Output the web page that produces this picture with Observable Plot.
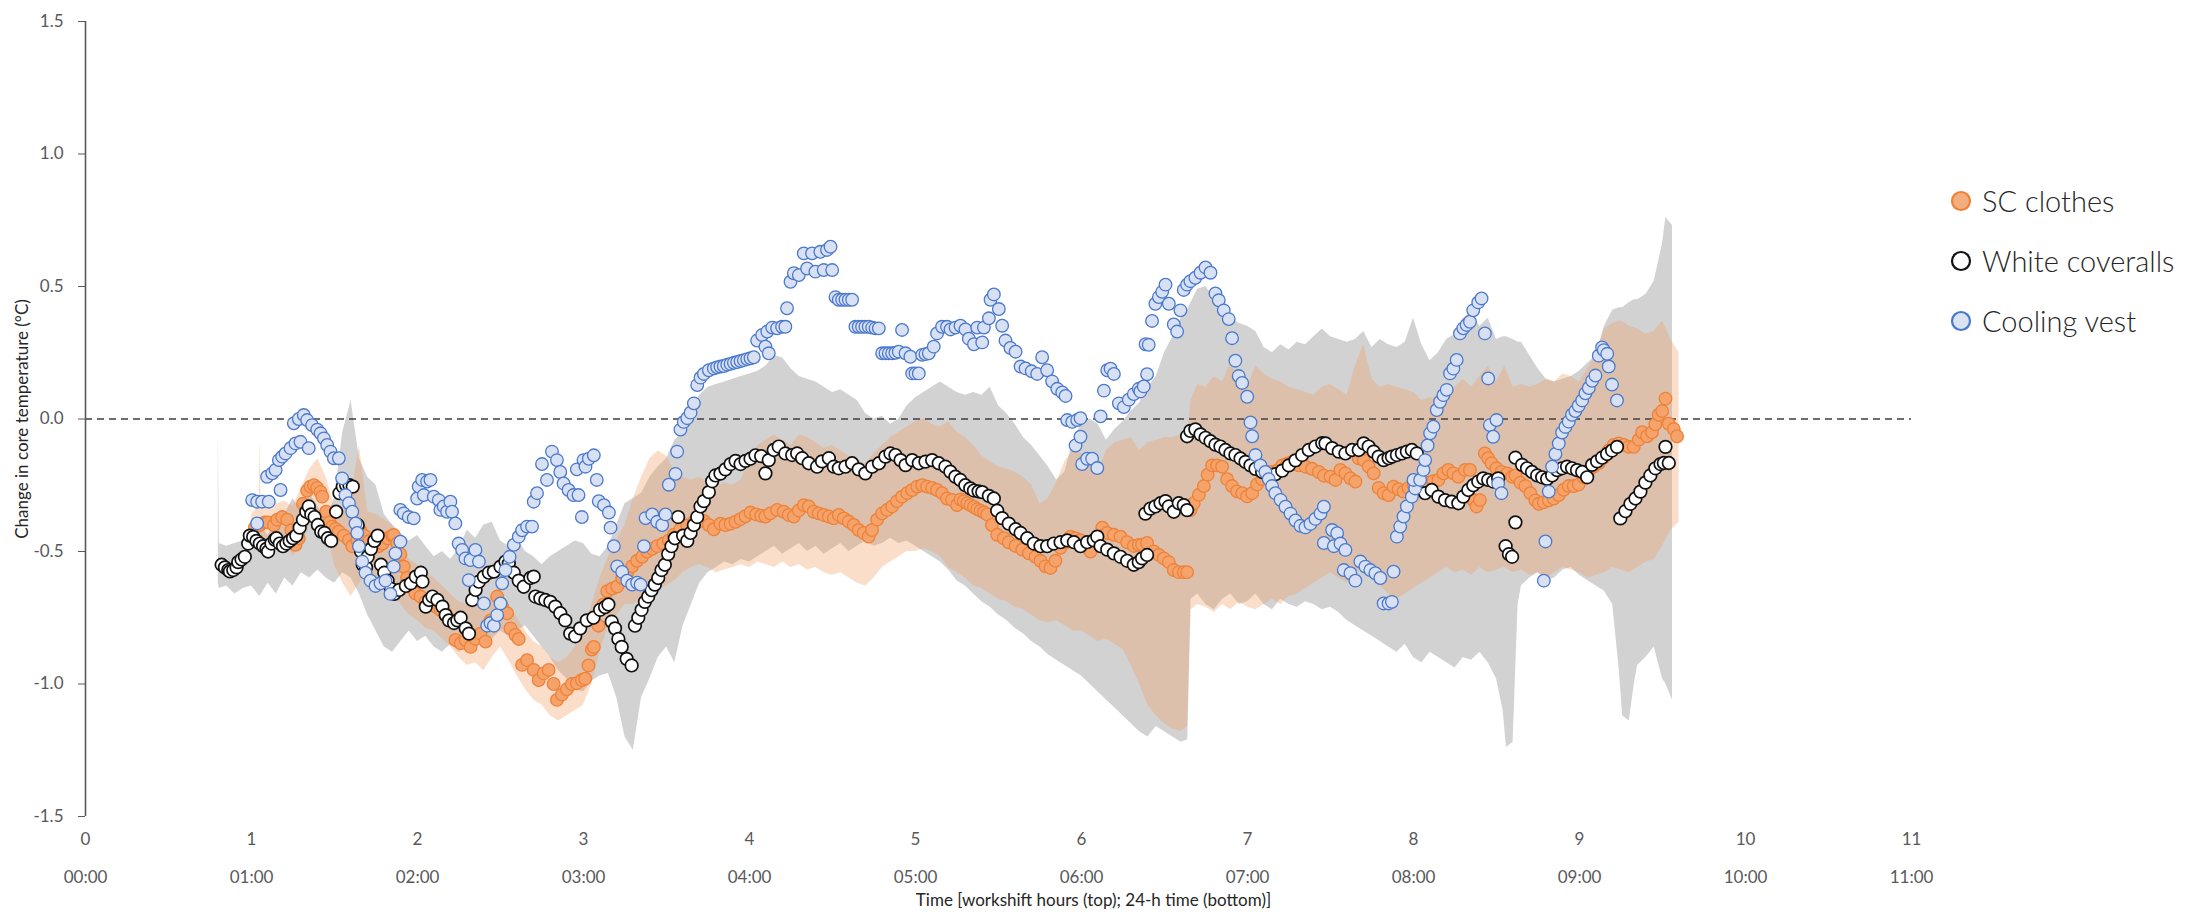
<!DOCTYPE html>
<html>
<head>
<meta charset="utf-8">
<script src="https://cdn.jsdelivr.net/npm/d3@7"></script>
<script src="https://cdn.jsdelivr.net/npm/@observablehq/plot@0.6"></script>
<style>
  html, body { margin: 0; padding: 0; background: #ffffff; }
  #wrap { position: relative; width: 2187px; height: 914px; overflow: hidden; }
  #legend { position: absolute; left: 0; top: 0; pointer-events: none; }
</style>
</head>
<body>
<div id="wrap"><div id="chart"></div><svg id="legend" width="2187" height="914"></svg></div>
<script>
// ---------- axis ticks ----------
const hourTicks = [0, 1, 2, 3, 4, 5, 6, 7, 8, 9, 10, 11];
const clockLabels = ["00:00", "01:00", "02:00", "03:00", "04:00", "05:00", "06:00", "07:00", "08:00", "09:00", "10:00", "11:00"];
const yTicks = [-1.5, -1.0, -0.5, 0.0, 0.5, 1.0, 1.5];
const xTitle = "Time [workshift hours (top); 24-h time (bottom)]";
const yTitle = "Change in core temperature (°C)";
const seriesNames = ["SC clothes", "White coveralls", "Cooling vest"];

// ---------- series: [hour, change °C] ----------
const scClothes = [
[1.02,-0.41],[1.05,-0.40],[1.08,-0.39],[1.10,-0.39],[1.135,-0.40],[1.155,-0.38],[1.185,-0.37],[1.215,-0.38],[1.24,-0.42],[1.265,-0.475],[1.285,-0.45],[1.31,-0.32],[1.335,-0.27],[1.355,-0.255],[1.376,-0.25],[1.396,-0.26],[1.416,-0.275],[1.426,-0.293],[1.45,-0.35],[1.47,-0.39],[1.486,-0.406],[1.506,-0.415],[1.526,-0.425],[1.556,-0.44],[1.587,-0.457],[1.607,-0.48],[1.637,-0.457],[1.655,-0.42],[1.68,-0.44],[1.71,-0.46],[1.74,-0.47],[1.767,-0.48],[1.79,-0.47],[1.82,-0.45],[1.847,-0.44],
[1.857,-0.438],[1.877,-0.47],[1.897,-0.51],[1.917,-0.557],[1.937,-0.60],[1.957,-0.633],[1.987,-0.658],[2.018,-0.67],[2.048,-0.69],[2.078,-0.696],[2.108,-0.708],[2.138,-0.72],[2.168,-0.733],[2.198,-0.758],[2.229,-0.834],[2.26,-0.846],[2.29,-0.834],[2.32,-0.86],[2.35,-0.83],[2.379,-0.81],[2.41,-0.84],[2.44,-0.76],[2.48,-0.67],[2.51,-0.708],[2.54,-0.733],[2.56,-0.79],[2.59,-0.815],[2.61,-0.83],[2.63,-0.928],[2.66,-0.91],[2.70,-0.947],[2.73,-0.985],[2.76,-0.96],[2.79,-0.947],[2.82,-1.0],[2.84,-1.06],[2.87,-1.04],[2.90,-1.02],[2.93,-1.0],[2.96,-0.997],[2.99,-0.985],
[3.01,-0.98],[3.03,-0.93],[3.05,-0.87],[3.062,-0.86],[3.09,-0.78],[3.12,-0.70],[3.143,-0.65],[3.173,-0.64],[3.203,-0.632],[3.233,-0.60],[3.263,-0.58],[3.293,-0.556],[3.323,-0.535],[3.353,-0.52],[3.384,-0.50],[3.414,-0.49],[3.444,-0.48],[3.48,-0.47],[3.514,-0.458],[3.544,-0.437],[3.584,-0.416],[3.625,-0.402],[3.665,-0.388],[3.695,-0.374],[3.725,-0.385],[3.755,-0.40],[3.785,-0.416],[3.825,-0.395],[3.855,-0.40],[3.886,-0.395],[3.916,-0.388],[3.946,-0.378],[3.976,-0.367],[4.006,-0.353],[4.04,-0.36],[4.07,-0.365],
[4.096,-0.368],[4.126,-0.356],[4.166,-0.343],[4.206,-0.35],[4.236,-0.362],[4.267,-0.368],[4.297,-0.345],[4.327,-0.325],[4.357,-0.33],[4.387,-0.35],[4.417,-0.356],[4.447,-0.362],[4.478,-0.368],[4.508,-0.375],[4.538,-0.362],[4.568,-0.375],[4.598,-0.387],[4.628,-0.40],[4.658,-0.419],[4.688,-0.43],[4.718,-0.444],[4.738,-0.419],[4.769,-0.38],[4.799,-0.356],[4.829,-0.343],[4.859,-0.33],[4.889,-0.31],[4.919,-0.293],[4.95,-0.28],[4.98,-0.268],[5.01,-0.255],[5.04,-0.25],[5.07,-0.255],[5.10,-0.26],[5.13,-0.268],[5.16,-0.28],[5.19,-0.30],[5.22,-0.305],[5.25,-0.325],
[5.271,-0.304],[5.291,-0.31],[5.311,-0.318],[5.331,-0.325],[5.352,-0.332],[5.372,-0.34],[5.392,-0.346],[5.412,-0.352],[5.432,-0.36],[5.46,-0.40],[5.492,-0.437],[5.532,-0.45],[5.562,-0.465],[5.603,-0.479],[5.643,-0.493],[5.683,-0.507],[5.723,-0.52],[5.753,-0.535],[5.783,-0.556],[5.813,-0.562],[5.843,-0.535],[5.874,-0.486],[5.904,-0.465],[5.934,-0.444],[5.964,-0.45],[5.994,-0.458],[6.024,-0.48],[6.054,-0.50],[6.09,-0.46],[6.125,-0.41],[6.155,-0.43],[6.195,-0.437],[6.235,-0.444],[6.275,-0.465],[6.315,-0.479],[6.345,-0.475],
[6.365,-0.474],[6.395,-0.468],[6.435,-0.50],[6.466,-0.513],[6.496,-0.526],[6.526,-0.54],[6.556,-0.57],[6.586,-0.578],[6.616,-0.578],[6.636,-0.578],
[6.656,-0.344],[6.676,-0.318],[6.707,-0.286],[6.737,-0.253],[6.76,-0.21],[6.787,-0.175],[6.817,-0.175],[6.847,-0.18],[6.877,-0.227],[6.907,-0.253],[6.937,-0.273],[6.968,-0.28],[6.998,-0.292],[7.028,-0.28],[7.058,-0.247],[7.088,-0.227],[7.118,-0.20],[7.148,-0.20],[7.178,-0.195],[7.209,-0.175],[7.239,-0.169],[7.269,-0.162],[7.309,-0.175],[7.349,-0.18],[7.389,-0.188],[7.43,-0.20],[7.46,-0.214],
[7.50,-0.218],[7.53,-0.23],[7.56,-0.192],[7.59,-0.205],[7.62,-0.224],[7.65,-0.236],[7.67,-0.148],[7.70,-0.155],[7.73,-0.18],[7.76,-0.205],[7.79,-0.26],[7.82,-0.28],[7.85,-0.287],[7.88,-0.255],[7.91,-0.265],[7.94,-0.274],[7.97,-0.26],[8.00,-0.25],[8.03,-0.245],[8.06,-0.25],[8.09,-0.24],[8.12,-0.235],[8.15,-0.23],[8.18,-0.205],[8.21,-0.192],[8.24,-0.205],[8.27,-0.218],[8.31,-0.192],[8.34,-0.192],[8.36,-0.306],[8.38,-0.33],[8.40,-0.306],[8.43,-0.13],[8.45,-0.148],[8.47,-0.167],[8.50,-0.186],[8.53,-0.20],[8.565,-0.205],[8.595,-0.218],
[8.614,-0.213],[8.644,-0.24],[8.674,-0.253],[8.704,-0.28],[8.734,-0.307],[8.755,-0.32],[8.785,-0.314],[8.815,-0.307],[8.845,-0.30],[8.875,-0.287],[8.905,-0.267],[8.935,-0.253],[8.965,-0.253],[8.995,-0.247],[9.025,-0.22],[9.056,-0.193],[9.086,-0.18],[9.116,-0.166],[9.146,-0.146],[9.176,-0.119],[9.206,-0.098],[9.236,-0.092],[9.267,-0.098],[9.297,-0.105],[9.327,-0.105],[9.357,-0.078],[9.377,-0.05],[9.407,-0.065],[9.437,-0.05],[9.457,-0.02],[9.477,0.016],[9.498,0.03],[9.518,0.077],[9.538,-0.018],[9.568,-0.038],[9.588,-0.065]
];

const whiteCoveralls = [
[0.82,-0.55],[0.84,-0.56],[0.86,-0.57],[0.87,-0.575],[0.89,-0.57],[0.91,-0.56],[0.92,-0.54],[0.94,-0.53],[0.96,-0.52],[0.98,-0.47],[0.99,-0.44],[1.01,-0.445],[1.03,-0.46],[1.05,-0.47],[1.07,-0.48],[1.09,-0.49],[1.10,-0.50],[1.12,-0.47],[1.14,-0.455],[1.15,-0.45],[1.17,-0.47],[1.19,-0.48],[1.21,-0.47],[1.23,-0.46],[1.25,-0.45],[1.27,-0.44],[1.29,-0.41],[1.31,-0.38],[1.33,-0.35],[1.345,-0.33],[1.36,-0.36],[1.38,-0.37],[1.40,-0.40],[1.42,-0.425],[1.44,-0.43],[1.46,-0.45],[1.48,-0.46],[1.51,-0.35],[1.53,-0.28],[1.55,-0.255],[1.57,-0.25],[1.59,-0.25],[1.61,-0.255],[1.64,-0.40],[1.66,-0.50],[1.67,-0.55],[1.69,-0.56],[1.70,-0.52],[1.72,-0.49],[1.74,-0.46],[1.76,-0.44],[1.78,-0.55],[1.80,-0.58],[1.82,-0.61],[1.84,-0.64],
[1.86,-0.66],[1.89,-0.645],[1.93,-0.63],[1.96,-0.62],[1.99,-0.595],[2.02,-0.58],[2.03,-0.614],[2.05,-0.708],[2.07,-0.683],[2.09,-0.67],[2.12,-0.683],[2.15,-0.708],[2.17,-0.74],[2.19,-0.76],[2.22,-0.77],[2.24,-0.76],[2.26,-0.75],[2.29,-0.79],[2.31,-0.81],[2.33,-0.683],[2.35,-0.645],[2.37,-0.614],[2.40,-0.595],[2.43,-0.58],[2.46,-0.576],[2.50,-0.557],[2.53,-0.538],[2.55,-0.545],[2.58,-0.58],[2.61,-0.61],[2.64,-0.633],[2.68,-0.60],[2.70,-0.595],[2.71,-0.67],[2.74,-0.677],[2.77,-0.683],[2.80,-0.69],[2.83,-0.708],[2.86,-0.733],[2.89,-0.76],[2.92,-0.81],[2.95,-0.82],[2.98,-0.79],
[3.02,-0.76],[3.06,-0.75],[3.10,-0.72],[3.13,-0.71],[3.15,-0.70],[3.17,-0.765],[3.19,-0.79],[3.21,-0.83],[3.23,-0.86],[3.26,-0.905],[3.29,-0.93],[3.31,-0.78],[3.33,-0.75],[3.35,-0.72],[3.37,-0.69],[3.39,-0.67],[3.41,-0.646],[3.43,-0.625],[3.45,-0.60],[3.47,-0.57],[3.49,-0.55],[3.51,-0.51],[3.53,-0.48],[3.55,-0.45],[3.57,-0.37],[3.60,-0.44],[3.625,-0.46],[3.645,-0.43],[3.665,-0.40],[3.685,-0.37],[3.705,-0.33],[3.725,-0.31],[3.755,-0.276],[3.775,-0.235],[3.795,-0.213],[3.825,-0.206],[3.855,-0.19],[3.886,-0.17],[3.916,-0.158],[3.946,-0.17],[3.976,-0.158],[4.006,-0.15],[4.036,-0.137],[4.07,-0.14],
[4.096,-0.205],[4.116,-0.155],[4.146,-0.117],[4.176,-0.104],[4.216,-0.13],[4.257,-0.136],[4.287,-0.13],[4.317,-0.148],[4.357,-0.167],[4.407,-0.18],[4.437,-0.16],[4.478,-0.148],[4.508,-0.18],[4.538,-0.186],[4.578,-0.18],[4.618,-0.167],[4.658,-0.19],[4.698,-0.205],[4.739,-0.18],[4.78,-0.167],[4.819,-0.142],[4.849,-0.13],[4.879,-0.136],[4.91,-0.155],[4.94,-0.174],[4.98,-0.155],[5.02,-0.167],[5.06,-0.161],[5.10,-0.155],[5.14,-0.167],[5.18,-0.18],[5.21,-0.199],[5.24,-0.218],
[5.27,-0.23],[5.30,-0.25],[5.33,-0.262],[5.352,-0.27],[5.38,-0.273],[5.402,-0.276],[5.442,-0.29],[5.472,-0.30],[5.492,-0.346],[5.522,-0.374],[5.562,-0.395],[5.603,-0.416],[5.633,-0.43],[5.673,-0.45],[5.713,-0.47],[5.753,-0.48],[5.793,-0.48],[5.833,-0.47],[5.874,-0.465],[5.914,-0.458],[5.954,-0.465],[5.994,-0.48],[6.034,-0.465],[6.074,-0.458],[6.095,-0.444],[6.115,-0.48],[6.155,-0.493],[6.195,-0.507],[6.235,-0.52],[6.275,-0.535],[6.315,-0.55],[6.345,-0.54],[6.365,-0.526],[6.395,-0.513],
[6.385,-0.357],[6.415,-0.338],[6.445,-0.33],[6.476,-0.318],[6.506,-0.31],[6.526,-0.33],[6.556,-0.35],[6.586,-0.318],[6.616,-0.325],[6.636,-0.344],
[6.636,-0.065],[6.656,-0.045],[6.686,-0.039],[6.717,-0.058],[6.747,-0.071],[6.777,-0.084],[6.807,-0.097],[6.837,-0.104],[6.867,-0.117],[6.897,-0.13],[6.927,-0.136],[6.958,-0.149],[6.988,-0.162],[7.018,-0.175],[7.048,-0.188],[7.088,-0.20],[7.128,-0.214],[7.168,-0.208],[7.209,-0.195],[7.249,-0.175],[7.289,-0.156],[7.329,-0.136],[7.369,-0.117],[7.409,-0.104],[7.45,-0.091],
[7.47,-0.092],[7.51,-0.11],[7.55,-0.123],[7.59,-0.13],[7.63,-0.117],[7.67,-0.117],[7.70,-0.092],[7.73,-0.104],[7.76,-0.123],[7.79,-0.142],[7.82,-0.155],[7.85,-0.148],[7.87,-0.142],[7.90,-0.136],[7.93,-0.13],[7.96,-0.123],[7.99,-0.117],[8.02,-0.13],
[8.07,-0.28],[8.11,-0.268],[8.15,-0.293],[8.19,-0.306],[8.23,-0.312],[8.27,-0.318],[8.30,-0.293],[8.33,-0.268],[8.36,-0.25],[8.39,-0.236],[8.42,-0.224],[8.45,-0.23],[8.48,-0.236],[8.51,-0.224],
[8.555,-0.48],[8.575,-0.51],[8.594,-0.52],[8.614,-0.39],
[8.614,-0.146],[8.654,-0.173],[8.684,-0.186],[8.714,-0.20],[8.745,-0.213],[8.775,-0.22],[8.805,-0.226],[8.835,-0.213],[8.865,-0.193],[8.895,-0.186],[8.925,-0.18],[8.955,-0.186],[8.985,-0.193],[9.016,-0.20],[9.046,-0.22],[9.076,-0.173],[9.106,-0.16],[9.136,-0.146],[9.166,-0.132],[9.196,-0.119],[9.226,-0.105],
[9.246,-0.375],[9.277,-0.348],[9.307,-0.32],[9.337,-0.30],[9.367,-0.274],[9.397,-0.24],[9.427,-0.213],[9.457,-0.186],[9.488,-0.17],[9.508,-0.166],[9.518,-0.105],[9.538,-0.166]
];

const coolingVest = [
[1.004,-0.306],[1.034,-0.312],[1.034,-0.394],[1.064,-0.312],[1.104,-0.312],[1.094,-0.218],[1.125,-0.205],[1.145,-0.192],[1.165,-0.155],[1.175,-0.268],[1.185,-0.142],[1.205,-0.13],[1.235,-0.11],[1.265,-0.092],[1.295,-0.086],[1.345,-0.11],[1.255,-0.016],[1.285,0.0],[1.315,0.015],[1.335,-0.004],[1.365,-0.023],[1.396,-0.04],[1.416,-0.054],[1.436,-0.073],[1.456,-0.098],[1.476,-0.123],[1.496,-0.148],[1.526,-0.148],[1.546,-0.224],[1.566,-0.287],[1.587,-0.318],[1.607,-0.35],[1.627,-0.394],[1.637,-0.43],[1.647,-0.48],[1.667,-0.538],[1.687,-0.58],[1.717,-0.61],[1.747,-0.63],[1.777,-0.62],[1.807,-0.61],[1.837,-0.66],[1.857,-0.557],[1.867,-0.507],[1.897,-0.463],
[1.897,-0.343],[1.917,-0.356],[1.947,-0.37],[1.977,-0.375],[1.998,-0.30],[2.007,-0.255],[2.028,-0.23],[2.058,-0.236],[2.078,-0.23],[2.038,-0.287],[2.098,-0.293],[2.128,-0.306],[2.138,-0.343],[2.158,-0.33],[2.178,-0.35],[2.198,-0.312],[2.208,-0.35],[2.228,-0.394],[2.248,-0.47],[2.269,-0.494],[2.289,-0.526],[2.309,-0.608],[2.319,-0.532],[2.349,-0.494],[2.37,-0.538],[2.40,-0.696],[2.42,-0.78],[2.44,-0.77],[2.46,-0.78],[2.48,-0.74],[2.50,-0.696],[2.51,-0.62],[2.53,-0.57],[2.555,-0.52],[2.58,-0.475],[2.61,-0.444],[2.63,-0.42],[2.66,-0.406],[2.69,-0.406],[2.70,-0.312],[2.72,-0.28],[2.75,-0.17],[2.78,-0.23],[2.81,-0.123],[2.84,-0.155],[2.86,-0.20],[2.88,-0.243],[2.91,-0.268],[2.94,-0.287],[2.97,-0.287],[2.96,-0.19],[2.99,-0.37],
[3.0,-0.155],[3.012,-0.18],[3.032,-0.15],[3.062,-0.137],[3.08,-0.23],[3.092,-0.31],[3.123,-0.325],[3.153,-0.353],[3.163,-0.41],[3.183,-0.48],[3.203,-0.556],[3.233,-0.577],[3.263,-0.61],[3.293,-0.625],[3.323,-0.618],[3.344,-0.625],[3.364,-0.48],[3.374,-0.374],[3.414,-0.36],[3.444,-0.388],[3.474,-0.40],[3.494,-0.36],[3.514,-0.248],[3.554,-0.207],[3.564,-0.123],[3.584,-0.04],[3.604,-0.011],[3.625,0.003],[3.645,0.024],[3.665,0.059],[3.685,0.128],[3.705,0.156],[3.725,0.17],[3.755,0.184],[3.785,0.191],[3.805,0.195],[3.825,0.198],[3.845,0.2],[3.866,0.205],[3.886,0.208],[3.906,0.212],[3.926,0.215],[3.946,0.219],[3.966,0.222],[3.986,0.226],[4.006,0.229],[4.026,0.233],[4.046,0.296],[4.076,0.317],
[4.096,0.273],[4.107,0.33],[4.116,0.248],[4.137,0.345],[4.166,0.342],[4.196,0.348],[4.216,0.348],[4.226,0.418],[4.247,0.518],[4.267,0.55],[4.297,0.543],[4.327,0.625],[4.347,0.568],[4.377,0.625],[4.397,0.556],[4.427,0.631],[4.447,0.562],[4.467,0.638],[4.488,0.65],[4.498,0.562],[4.518,0.46],[4.538,0.45],[4.558,0.45],[4.578,0.45],[4.598,0.45],[4.618,0.45],[4.638,0.348],[4.658,0.348],[4.678,0.348],[4.698,0.348],[4.718,0.348],[4.739,0.345],[4.759,0.342],[4.779,0.342],[4.799,0.248],[4.819,0.248],[4.839,0.248],[4.859,0.248],[4.879,0.25],[4.899,0.254],[4.919,0.336],[4.94,0.248],[4.969,0.235],[4.98,0.172],[5.0,0.172],[5.02,0.172],[5.04,0.242],[5.06,0.245],[5.08,0.248],[5.11,0.273],[5.13,0.323],[5.16,0.348],[5.19,0.348],
[5.211,0.338],[5.241,0.345],[5.271,0.352],[5.301,0.338],[5.321,0.303],[5.352,0.282],[5.372,0.345],[5.402,0.289],[5.412,0.345],[5.442,0.38],[5.452,0.45],[5.472,0.47],[5.502,0.415],[5.522,0.352],[5.542,0.296],[5.572,0.268],[5.603,0.254],[5.633,0.198],[5.663,0.191],[5.70,0.18],[5.733,0.17],[5.763,0.233],[5.793,0.184],[5.823,0.142],[5.854,0.114],[5.884,0.10],[5.904,0.087],[5.914,-0.004],[5.944,-0.011],[5.974,-0.004],[5.994,0.003],[5.964,-0.10],[5.994,-0.067],[6.004,-0.17],[6.034,-0.15],[6.064,-0.15],[6.095,-0.185],[6.115,0.01],[6.135,0.107],[6.155,0.184],[6.175,0.19],[6.195,0.17],[6.225,0.059],[6.255,0.045],[6.285,0.073],[6.315,0.094],[6.345,0.114],
[6.355,0.104],[6.375,0.123],[6.386,0.282],[6.395,0.169],[6.405,0.28],[6.425,0.37],[6.445,0.435],[6.466,0.46],[6.486,0.48],[6.506,0.507],[6.526,0.435],[6.556,0.357],[6.576,0.33],[6.596,0.41],[6.616,0.487],[6.636,0.507],[6.656,0.52],[6.686,0.533],[6.717,0.552],[6.747,0.572],[6.777,0.552],[6.807,0.474],[6.827,0.448],[6.857,0.41],[6.887,0.377],[6.907,0.305],[6.927,0.22],[6.947,0.162],[6.968,0.136],[6.998,0.084],[7.018,-0.013],[7.028,-0.065],[7.048,-0.136],[7.078,-0.175],[7.108,-0.20],[7.128,-0.227],[7.148,-0.253],[7.168,-0.28],[7.199,-0.305],[7.229,-0.331],[7.259,-0.357],[7.289,-0.383],[7.319,-0.403],[7.349,-0.409],[7.379,-0.396],[7.409,-0.377],[7.44,-0.357],[7.46,-0.331],[7.46,-0.468],
[7.51,-0.419],[7.52,-0.48],[7.54,-0.431],[7.56,-0.47],[7.58,-0.57],[7.59,-0.494],[7.62,-0.582],[7.65,-0.61],[7.68,-0.538],[7.71,-0.557],[7.74,-0.57],[7.77,-0.582],[7.80,-0.60],[7.82,-0.696],[7.85,-0.696],[7.87,-0.69],[7.88,-0.576],[7.90,-0.444],[7.92,-0.406],[7.94,-0.368],[7.96,-0.33],[7.99,-0.293],[8.01,-0.262],[8.0,-0.23],[8.04,-0.23],[8.06,-0.192],[8.07,-0.155],[8.085,-0.10],[8.10,-0.054],[8.12,-0.029],[8.14,0.034],[8.16,0.065],[8.18,0.09],[8.20,0.11],[8.22,0.172],[8.24,0.19],[8.26,0.223],[8.28,0.323],[8.30,0.342],[8.32,0.355],[8.34,0.367],[8.36,0.41],[8.39,0.44],[8.41,0.455],[8.43,0.323],[8.45,0.153],[8.46,-0.023],[8.48,-0.067],[8.50,-0.004],[8.51,-0.243],[8.53,-0.28],
[8.785,-0.61],[8.795,-0.462],[8.815,-0.274],[8.835,-0.18],[8.855,-0.132],[8.875,-0.092],[8.895,-0.051],[8.915,-0.03],[8.935,-0.01],[8.955,0.016],[8.975,0.03],[8.995,0.05],[9.016,0.07],[9.036,0.097],[9.056,0.117],[9.076,0.144],[9.096,0.164],[9.116,0.239],[9.136,0.27],[9.146,0.26],[9.167,0.246],[9.176,0.198],[9.196,0.13],[9.226,0.07]
];

// ---------- shaded spread: [hour, lower, upper] ----------
const whiteBand = [
[0.800,-0.62,-0.03],[0.806,-0.64,-0.47],[0.85,-0.63,-0.48],[0.90,-0.66,-0.47],[0.95,-0.64,-0.46],[1.00,-0.63,-0.42],[1.05,-0.67,-0.40],[1.10,-0.62,-0.44],[1.15,-0.66,-0.38],[1.20,-0.60,-0.36],[1.25,-0.63,-0.30],[1.30,-0.58,-0.35],[1.35,-0.60,-0.28],[1.40,-0.57,-0.33],[1.45,-0.60,-0.38],[1.50,-0.62,-0.30],[1.55,-0.58,-0.05],[1.60,-0.60,0.07],[1.65,-0.66,-0.15],[1.70,-0.74,-0.22],[1.75,-0.80,-0.25],[1.80,-0.86,-0.36],[1.85,-0.88,-0.40],[1.90,-0.84,-0.43],[1.95,-0.80,-0.46],[2.00,-0.84,-0.44],[2.05,-0.82,-0.48],[2.10,-0.86,-0.52],[2.15,-0.88,-0.50],[2.20,-0.85,-0.53],[2.25,-0.88,-0.49],[2.30,-0.86,-0.42],[2.35,-0.84,-0.45],[2.40,-0.86,-0.40],[2.45,-0.83,-0.39],[2.50,-0.80,-0.46],[2.55,-0.82,-0.48],[2.60,-0.80,-0.45],[2.65,-0.78,-0.50],[2.70,-0.82,-0.52],[2.75,-0.86,-0.55],[2.80,-0.90,-0.52],[2.85,-0.95,-0.50],[2.90,-0.98,-0.48],[2.95,-1.02,-0.46],
[3.00,-1.03,-0.47],[3.05,-0.99,-0.51],[3.10,-0.97,-0.52],[3.15,-0.96,-0.48],[3.20,-1.05,-0.40],[3.25,-1.20,-0.32],[3.30,-1.25,-0.30],[3.35,-1.05,-0.28],[3.40,-0.98,-0.22],[3.45,-0.90,-0.18],[3.50,-0.86,-0.15],[3.55,-0.92,-0.08],[3.60,-0.78,-0.05],[3.65,-0.70,0.03],[3.70,-0.62,0.09],[3.75,-0.58,0.12],[3.80,-0.56,0.13],[3.85,-0.54,0.14],[3.90,-0.55,0.15],[3.95,-0.53,0.16],[4.00,-0.54,0.17],[4.05,-0.52,0.18],[4.10,-0.50,0.20],[4.15,-0.48,0.24],[4.20,-0.51,0.23],[4.25,-0.49,0.19],[4.30,-0.47,0.16],[4.35,-0.50,0.15],[4.40,-0.48,0.14],[4.45,-0.51,0.12],[4.50,-0.49,0.10],[4.55,-0.47,0.11],[4.60,-0.50,0.09],[4.65,-0.48,0.07],[4.70,-0.46,0.02],[4.75,-0.48,0.00],[4.80,-0.47,0.01],[4.85,-0.45,-0.02],[4.90,-0.47,0.00],[4.95,-0.46,0.05],
[5.00,-0.48,0.08],[5.05,-0.50,0.10],[5.10,-0.52,0.12],[5.15,-0.54,0.14],[5.20,-0.57,0.12],[5.25,-0.61,0.10],[5.30,-0.63,0.09],[5.35,-0.66,0.10],[5.40,-0.69,0.09],[5.45,-0.71,0.12],[5.50,-0.74,0.05],[5.55,-0.76,0.02],[5.60,-0.79,-0.02],[5.65,-0.81,-0.07],[5.70,-0.84,-0.10],[5.75,-0.86,-0.14],[5.80,-0.89,-0.18],[5.85,-0.91,-0.23],[5.90,-0.93,-0.20],[5.95,-0.95,-0.08],[6.00,-0.97,-0.02],[6.05,-1.00,0.00],[6.10,-1.03,-0.02],[6.15,-1.06,-0.08],[6.20,-1.09,-0.04],[6.25,-1.12,-0.01],[6.30,-1.15,0.03],[6.35,-1.18,0.06],[6.40,-1.20,0.12],[6.45,-1.16,0.16],[6.50,-1.18,0.25],[6.55,-1.20,0.31],[6.60,-1.22,0.38],[6.64,-1.21,0.41],[6.66,-0.68,0.44],[6.70,-0.66,0.49],[6.75,-0.70,0.50],[6.80,-0.72,0.45],[6.85,-0.68,0.41],[6.90,-0.66,0.38],[6.95,-0.70,0.36],
[7.00,-0.69,0.35],[7.05,-0.66,0.33],[7.10,-0.70,0.27],[7.15,-0.72,0.25],[7.20,-0.68,0.28],[7.25,-0.70,0.26],[7.30,-0.71,0.29],[7.35,-0.69,0.28],[7.40,-0.70,0.31],[7.45,-0.72,0.34],[7.50,-0.71,0.31],[7.55,-0.73,0.30],[7.60,-0.76,0.29],[7.65,-0.78,0.30],[7.70,-0.80,0.33],[7.75,-0.82,0.27],[7.80,-0.84,0.30],[7.85,-0.86,0.28],[7.90,-0.88,0.27],[7.95,-0.85,0.29],[8.00,-0.90,0.38],[8.05,-0.92,0.28],[8.10,-0.88,0.22],[8.15,-0.90,0.25],[8.20,-0.92,0.30],[8.25,-0.94,0.32],[8.30,-0.90,0.38],[8.35,-0.91,0.40],[8.40,-0.88,0.35],[8.45,-0.92,0.38],[8.50,-0.98,0.30],[8.54,-1.10,0.31],[8.56,-1.24,0.31],[8.60,-1.22,0.30],[8.63,-0.70,0.29],[8.65,-0.63,0.29],[8.70,-0.60,0.24],[8.75,-0.58,0.19],[8.80,-0.61,0.15],[8.85,-0.60,0.14],[8.90,-0.57,0.15],[8.95,-0.56,0.16],
[9.00,-0.59,0.18],[9.05,-0.61,0.21],[9.10,-0.63,0.24],[9.15,-0.65,0.35],[9.20,-0.70,0.41],[9.24,-0.95,0.42],[9.26,-1.12,0.42],[9.30,-1.14,0.44],[9.33,-1.00,0.45],[9.35,-0.93,0.45],[9.40,-0.90,0.47],[9.45,-0.86,0.52],[9.50,-0.98,0.66],[9.52,-1.00,0.76],[9.56,-1.06,0.73]
];

const scBand = [
[1.00,-0.48,-0.36],[1.045,-0.47,-0.33],[1.052,-0.46,-0.08],[1.058,-0.47,-0.33],[1.10,-0.49,-0.34],[1.15,-0.47,-0.32],[1.20,-0.46,-0.31],[1.25,-0.52,-0.33],[1.30,-0.48,-0.26],[1.35,-0.40,-0.19],[1.40,-0.38,-0.15],[1.45,-0.42,-0.22],[1.50,-0.55,-0.33],[1.55,-0.62,-0.35],[1.60,-0.67,-0.30],[1.65,-0.62,-0.10],[1.70,-0.58,-0.35],[1.75,-0.60,-0.36],[1.80,-0.62,-0.38],[1.85,-0.66,-0.40],[1.90,-0.70,-0.48],[1.95,-0.74,-0.53],[2.00,-0.76,-0.55],[2.05,-0.79,-0.58],[2.10,-0.80,-0.60],[2.15,-0.83,-0.63],[2.20,-0.86,-0.66],[2.25,-0.90,-0.69],[2.30,-0.93,-0.70],[2.35,-0.92,-0.68],[2.40,-0.95,-0.72],[2.45,-0.90,-0.66],[2.50,-0.86,-0.64],[2.55,-0.91,-0.70],[2.60,-0.97,-0.75],[2.65,-1.02,-0.80],[2.70,-1.06,-0.84],[2.75,-1.08,-0.86],[2.80,-1.12,-0.90],[2.85,-1.14,-0.92],[2.90,-1.12,-0.90],[2.95,-1.10,-0.86],
[3.00,-1.08,-0.80],[3.05,-1.00,-0.70],[3.10,-0.88,-0.60],[3.15,-0.78,-0.52],[3.20,-0.74,-0.46],[3.25,-0.70,-0.40],[3.30,-0.70,-0.30],[3.35,-0.68,-0.22],[3.40,-0.66,-0.15],[3.45,-0.64,-0.12],[3.50,-0.63,-0.14],[3.55,-0.61,-0.20],[3.60,-0.58,-0.22],[3.65,-0.56,-0.23],[3.70,-0.55,-0.22],[3.75,-0.56,-0.24],[3.80,-0.58,-0.26],[3.85,-0.57,-0.24],[3.90,-0.56,-0.25],[3.95,-0.55,-0.23],[4.00,-0.56,-0.16],[4.05,-0.54,-0.10],[4.10,-0.55,-0.08],[4.15,-0.56,-0.06],[4.20,-0.54,-0.08],[4.25,-0.56,-0.10],[4.30,-0.55,-0.06],[4.35,-0.57,-0.07],[4.40,-0.56,-0.09],[4.45,-0.58,-0.11],[4.50,-0.59,-0.10],[4.55,-0.58,-0.12],[4.60,-0.60,-0.14],[4.65,-0.62,-0.16],[4.70,-0.63,-0.17],[4.75,-0.60,-0.13],[4.80,-0.56,-0.10],[4.85,-0.54,-0.07],[4.90,-0.52,-0.05],[4.95,-0.50,-0.03],
[5.00,-0.50,-0.01],[5.05,-0.49,0.00],[5.10,-0.50,-0.02],[5.15,-0.52,-0.03],[5.20,-0.56,-0.01],[5.25,-0.58,-0.05],[5.30,-0.60,-0.07],[5.35,-0.63,-0.10],[5.40,-0.64,-0.14],[5.45,-0.66,-0.16],[5.50,-0.68,-0.18],[5.55,-0.69,-0.19],[5.60,-0.71,-0.20],[5.65,-0.72,-0.22],[5.70,-0.74,-0.25],[5.75,-0.76,-0.32],[5.80,-0.77,-0.30],[5.85,-0.76,-0.24],[5.90,-0.78,-0.16],[5.95,-0.80,-0.12],[6.00,-0.80,-0.13],[6.05,-0.82,-0.15],[6.10,-0.84,-0.20],[6.15,-0.83,-0.12],[6.20,-0.85,-0.09],[6.25,-0.87,-0.08],[6.30,-0.93,-0.07],[6.35,-1.00,-0.12],[6.40,-1.08,-0.09],[6.45,-1.12,-0.08],[6.50,-1.15,-0.07],[6.55,-1.17,-0.07],[6.60,-1.18,-0.06],[6.64,-1.16,-0.06],[6.66,-0.72,0.07],[6.70,-0.70,0.13],[6.75,-0.71,0.12],[6.80,-0.73,0.16],[6.85,-0.70,0.14],[6.90,-0.72,0.21],[6.95,-0.69,0.15],
[7.00,-0.71,0.12],[7.05,-0.72,0.20],[7.10,-0.70,0.17],[7.15,-0.68,0.15],[7.20,-0.70,0.14],[7.25,-0.67,0.12],[7.30,-0.66,0.11],[7.35,-0.64,0.10],[7.40,-0.62,0.09],[7.45,-0.60,0.12],[7.50,-0.58,0.13],[7.55,-0.60,0.11],[7.60,-0.62,0.09],[7.65,-0.58,0.20],[7.70,-0.56,0.28],[7.75,-0.60,0.15],[7.80,-0.63,0.12],[7.85,-0.66,0.13],[7.90,-0.68,0.12],[7.95,-0.66,0.11],[8.00,-0.64,0.10],[8.05,-0.62,0.07],[8.10,-0.60,0.08],[8.15,-0.58,0.08],[8.20,-0.56,0.10],[8.25,-0.58,0.12],[8.30,-0.57,0.15],[8.35,-0.59,0.12],[8.40,-0.56,0.16],[8.45,-0.58,0.20],[8.50,-0.57,0.14],[8.55,-0.56,0.20],[8.60,-0.58,0.12],[8.65,-0.57,0.13],[8.70,-0.59,0.12],[8.75,-0.58,0.13],[8.80,-0.60,0.15],[8.85,-0.58,0.14],[8.90,-0.56,0.17],[8.95,-0.57,0.16],
[9.00,-0.58,0.14],[9.05,-0.60,0.19],[9.10,-0.59,0.24],[9.15,-0.58,0.34],[9.20,-0.56,0.36],[9.25,-0.57,0.37],[9.30,-0.58,0.35],[9.35,-0.56,0.34],[9.40,-0.54,0.32],[9.45,-0.53,0.33],[9.50,-0.48,0.37],[9.55,-0.42,0.30],[9.60,-0.39,0.25]
];

// ---------- styling ----------
const FONT = "Lato, 'Open Sans', 'Noto Sans', sans-serif";
const dotFill = ["#f5a36b", "#ffffff", "#d8e1f4"];
const dotStroke = ["#ee8238", "#111111", "#4a78cc"];
const legendFill = ["#f4ae7e", "#ffffff", "#dae3f3"];

const pts = arr => arr.map(([t, v]) => ({t, v}));
const band = arr => arr.map(([t, lo, hi]) => ({t, lo, hi}));

const chart = Plot.plot({
  width: 2187,
  height: 914,
  marginLeft: 85,
  marginRight: 276,
  marginTop: 21,
  marginBottom: 98,
  style: {fontFamily: FONT, background: "#ffffff", overflow: "visible"},
  x: {domain: [0, 11], label: null},
  y: {domain: [-1.5, 1.5], label: null},
  marks: [
    Plot.areaY(band(whiteBand), {x: "t", y1: "lo", y2: "hi", fill: "#d2d2d2", curve: "linear"}),
    Plot.areaY(band(scBand), {x: "t", y1: "lo", y2: "hi", fill: "#f09a5e", fillOpacity: 0.33, curve: "linear"}),
    Plot.ruleY([0], {stroke: "#3f3f3f", strokeWidth: 1.4, strokeDasharray: "7,5"}),
    Plot.ruleX([0], {y1: -1.5, y2: 1.5, stroke: "#595959", strokeWidth: 1.6}),
    Plot.dot(pts(scClothes), {x: "t", y: "v", r: 6.3, fill: dotFill[0], stroke: dotStroke[0], strokeWidth: 1.3}),
    Plot.dot(pts(whiteCoveralls), {x: "t", y: "v", r: 6.3, fill: dotFill[1], stroke: dotStroke[1], strokeWidth: 1.7}),
    Plot.dot(pts(coolingVest), {x: "t", y: "v", r: 6.3, fill: dotFill[2], stroke: dotStroke[2], strokeWidth: 1.3}),
    Plot.axisY(yTicks, {anchor: "left", tickSize: 7, tickPadding: 15, tickFormat: d => d.toFixed(1), fontSize: 17, color: "#595959", label: null}),
    Plot.axisX(hourTicks, {anchor: "bottom", tickSize: 0, tickPadding: 16, tickFormat: d => String(d), fontSize: 17, color: "#595959", label: null}),
    Plot.axisX(hourTicks, {anchor: "bottom", tickSize: 0, tickPadding: 54, tickFormat: d => clockLabels[hourTicks.indexOf(d)], fontSize: 17, color: "#595959", label: null}),
    Plot.text([xTitle], {frameAnchor: "bottom", textAnchor: "middle", dx: 95, dy: 89, fontSize: 17, fill: "#262626"}),
    Plot.text([yTitle], {frameAnchor: "left", textAnchor: "middle", rotate: -90, dx: -63, dy: 0, fontSize: 17, fill: "#262626"})
  ]
});
document.getElementById("chart").appendChild(chart);

// ---------- legend (right side) ----------
const lg = d3.select("#legend");
const rows = lg.selectAll("g").data(seriesNames).join("g")
  .attr("transform", (d, i) => `translate(1961, ${201 + i * 60})`);
rows.append("circle").attr("r", 9)
  .attr("fill", (d, i) => legendFill[i])
  .attr("stroke", (d, i) => dotStroke[i])
  .attr("stroke-width", 2.2);
rows.append("text").attr("x", 21).attr("y", 11)
  .attr("font-family", FONT).attr("font-size", 29).attr("font-weight", 300)
  .attr("fill", "#262626").text(d => d);
</script>
</body>
</html>
